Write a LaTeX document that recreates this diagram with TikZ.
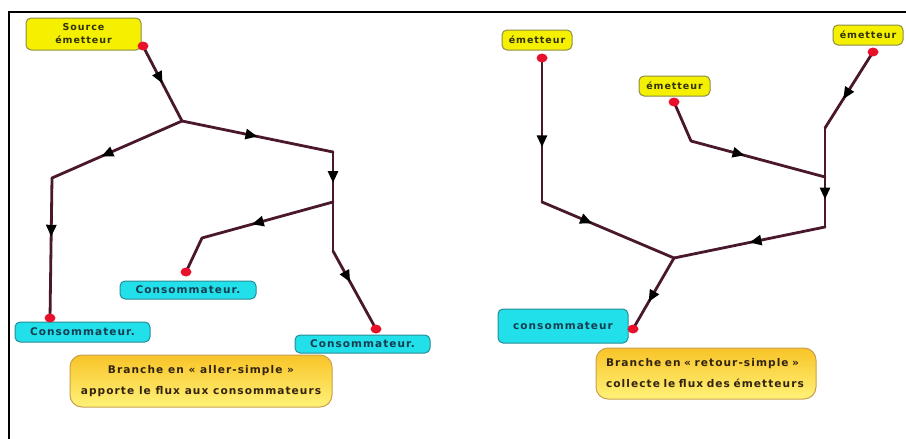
\documentclass[tikz,border=0pt]{standalone}
\usepackage{fontspec}
\usetikzlibrary{arrows.meta,decorations.markings,shapes.geometric}
\newfontfamily\labfont[LetterSpace=10]{DejaVu Sans}
\definecolor{pipe}{RGB}{74,24,44}
\definecolor{dotred}{RGB}{232,16,42}
\definecolor{yfill}{RGB}{244,240,0}
\definecolor{yborder}{RGB}{140,140,70}
\definecolor{ytext}{RGB}{50,50,10}
\definecolor{cfill}{RGB}{34,224,234}
\definecolor{cborder}{RGB}{40,140,150}
\definecolor{ctext}{RGB}{20,60,80}
\definecolor{ntop}{RGB}{248,196,40}
\definecolor{nbot}{RGB}{255,242,120}
\definecolor{nborder}{RGB}{200,160,80}
\definecolor{ntext}{RGB}{50,35,15}
\tikzset{
  flow/.style={draw=pipe, line width=2.8pt, line cap=round, postaction={decorate},
    decoration={markings, mark=at position #1 with {\arrow[black]{Triangle[length=12pt,width=10pt]}}}},
  flow/.default=0.5,
  pipeline/.style={draw=pipe, line width=2.8pt, line cap=round},
  reddot/.style={ellipse, fill=dotred, minimum width=11pt, minimum height=9pt, inner sep=0pt},
  ybox/.style={font=\labfont\bfseries\fontsize{9.5}{13}\selectfont, draw=yborder, fill=yfill, rounded corners=5pt, line width=1pt, text=ytext, inner sep=0pt, align=center},
  cbox/.style={font=\labfont\bfseries\fontsize{10.5}{13}\selectfont, draw=cborder, fill=cfill, rounded corners=5pt, line width=1pt, text=ctext, inner sep=0pt, align=center},
  notebox/.style={font=\labfont\bfseries\fontsize{10.6}{21}\selectfont, draw=nborder, top color=ntop, bottom color=nbot, rounded corners=12pt, line width=1pt, text=ntext, inner sep=0pt},
  frame/.style={draw=black, line width=2.5pt}
}
\begin{document}
\begin{tikzpicture}[x=1pt,y=-1pt]
\useasboundingbox (0,0) rectangle (906,439);
\fill[white] (0,0) rectangle (906,439);
% frame
\coordinate (fb) at (9,439);
\coordinate (fc) at (9,12);
\coordinate (fr) at (906,12);
\draw[frame] (fb) -- (fc) -- (fr);

% ---------- left diagram: boxes ----------
\node[ybox, minimum width=115pt, minimum height=32pt] (src) at (83.5,34) {Source\\émetteur};
\node[cbox, minimum width=135pt, minimum height=20pt] (cons1) at (82.5,332) {Consommateur.};
\node[cbox, minimum width=136pt, minimum height=18pt] (cons2) at (188,290) {Consommateur.};
\node[cbox, minimum width=135pt, minimum height=18pt] (cons3) at (362.5,344) {Consommateur.};
\node[notebox, minimum width=262pt, minimum height=52pt, align=center] (note1) at (201,381) {Branche en « aller-simple »\\apporte le flux aux consommateurs};

% ---------- right diagram: boxes ----------
\node[ybox, minimum width=70pt, minimum height=20pt] (em1) at (537,40) {émetteur};
\node[ybox, minimum width=71pt, minimum height=20pt] (em2) at (674.5,86) {émetteur};
\node[ybox, minimum width=70pt, minimum height=20pt] (em3) at (868,35) {émetteur};
\node[cbox, minimum width=130pt, minimum height=34pt] (cons4) at (563,326) {\raisebox{-8pt}{consommateur}};
\node[notebox, text width=200pt, inner xsep=10pt, minimum height=51pt, align=left] (note2) at (706,373.5) {Branche en « retour-simple »\\collecte le flux des émetteurs};

% ---------- left diagram: pipes ----------
\coordinate (srcd) at (143,46);
\coordinate (j1) at (182,121);
\coordinate (a) at (333,152);
\coordinate (j2) at (333,202);
\coordinate (b) at (52,178);
\coordinate (c1d) at (50,318);
\coordinate (c) at (202,238);
\coordinate (c2d) at (186,272);
\coordinate (d) at (333,251);
\coordinate (c3d) at (376,329);
\draw[flow=0.5] (srcd) -- (j1);
\draw[flow=0.5] (j1) -- (a);
\draw[flow=0.62] (a) -- (j2);
\draw[flow=0.62] (j1) -- (b);
\draw[flow=0.42] (b) -- (c1d);
\draw[flow=0.62] (j2) -- (c);
\draw[pipeline] (c) -- (c2d);
\draw[pipeline] (j2) -- (d);
\draw[flow=0.4] (d) -- (c3d);

% ---------- right diagram: pipes ----------
\coordinate (e1d) at (542,58);
\coordinate (f) at (542,202);
\coordinate (j3) at (674,258);
\coordinate (e2d) at (674,102);
\coordinate (g) at (691,141);
\coordinate (h) at (825,177);
\coordinate (e3d) at (873,52);
\coordinate (i) at (825,128);
\coordinate (k) at (825,227);
\coordinate (c4d) at (633,329);
\draw[flow=0.62] (e1d) -- (f);
\draw[flow=0.38] (f) -- (j3);
\draw[pipeline] (e2d) -- (g);
\draw[flow=0.4] (g) -- (h);
\draw[flow=0.62] (e3d) -- (i);
\draw[pipeline] (i) -- (h);
\draw[flow=0.45] (h) -- (k);
\draw[flow=0.5] (k) -- (j3);
\draw[flow=0.62] (j3) -- (c4d);

% ---------- red dots ----------
\node[reddot] (dsrc) at (srcd) {};
\node[reddot] (dc1) at (c1d) {};
\node[reddot] (dc2) at (c2d) {};
\node[reddot] (dc3) at (c3d) {};
\node[reddot] (de1) at (e1d) {};
\node[reddot] (de2) at (e2d) {};
\node[reddot] (de3) at (e3d) {};
\node[reddot] (dc4) at (c4d) {};
\end{tikzpicture}
\end{document}
